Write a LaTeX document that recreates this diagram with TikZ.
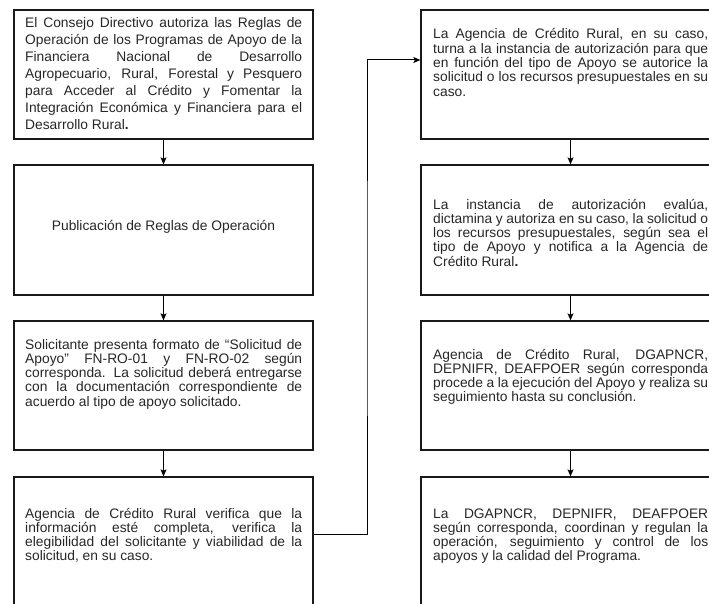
\documentclass[tikz,border=0pt]{standalone}
\usepackage{fontspec}
\setmainfont{Liberation Sans}
\usetikzlibrary{arrows.meta}
\newcommand\jlineL[1]{\hbox to 277pt{#1}}
\newcommand\jlineR[1]{\hbox to 275pt{#1}}
\newcommand\lastln[1]{\hbox{#1}}
\newcommand\tblock[2][14.3pt]{\vtop{\fontsize{13.8pt}{#1}\selectfont #2}}
\tikzset{
  box/.style={draw=black!90, line width=1.3pt, minimum width=299pt, inner sep=0pt, fill=none},
  txt/.style={anchor=base west, inner sep=0pt, text=black!85},
  arr/.style={draw=black, line width=1pt, -{Stealth[length=7pt,width=6pt,inset=1.5pt]}}
}
\begin{document}
\begin{tikzpicture}[x=1pt,y=-1pt]
\useasboundingbox (0,0) rectangle (709,604);
\clip (0,0) rectangle (709,604);
% left column boxes
\node[box, minimum height=129pt] (L1) at (163.5,74.5) {};
\node[box, minimum height=130pt] (L2) at (163.5,230) {};
\node[box, minimum height=129pt] (L3) at (163.5,385.5) {};
\node[box, minimum height=130pt] (L4) at (163.5,542) {};
% right column boxes
\node[box, minimum height=129pt] (R1) at (570.5,74.5) {};
\node[box, minimum height=130pt] (R2) at (570.5,230) {};
\node[box, minimum height=129pt] (R3) at (570.5,385.5) {};
\node[box, minimum height=130pt] (R4) at (570.5,542) {};
% texts
\node[txt] (tL1) at (25,28) {\tblock[16.9pt]{%
\jlineL{El Consejo Directivo autoriza las Reglas de}
\jlineL{Operación de los Programas de Apoyo de la}
\jlineL{Financiera Nacional de Desarrollo}
\jlineL{Agropecuario, Rural, Forestal y Pesquero}
\jlineL{para Acceder al Crédito y Fomentar la}
\jlineL{Integración Económica y Financiera para el}
\lastln{Desarrollo Rural\textbf{.}}}};
\node[txt, anchor=base] (tL2) at (163.5,230) {\fontsize{13.8pt}{14.3pt}\selectfont Publicación de Reglas de Operación};
\node[txt] (tL3) at (25,349) {\tblock{%
\jlineL{Solicitante presenta formato de “Solicitud de}
\jlineL{Apoyo” FN-RO-01 y FN-RO-02 según}
\jlineL{corresponda. La solicitud deberá entregarse}
\jlineL{con la documentación correspondiente de}
\lastln{acuerdo al tipo de apoyo solicitado.}}};
\node[txt] (tL4) at (25,518) {\tblock{%
\jlineL{Agencia de Crédito Rural verifica que la}
\jlineL{información esté completa, verifica la}
\jlineL{elegibilidad del solicitante y viabilidad de la}
\lastln{solicitud, en su caso.}}};
\node[txt] (tR1) at (433,39) {\tblock{%
\jlineR{La Agencia de Crédito Rural, en su caso,}
\jlineR{turna a la instancia de autorización para que}
\jlineR{en función del tipo de Apoyo se autorice la}
\jlineR{solicitud o los recursos presupuestales en su}
\lastln{caso.}}};
\node[txt] (tR2) at (433,209) {\tblock{%
\jlineR{La instancia de autorización evalúa,}
\jlineR{dictamina y autoriza en su caso, la solicitud o}
\jlineR{los recursos presupuestales, según sea el}
\jlineR{tipo de Apoyo y notifica a la Agencia de}
\lastln{Crédito Rural\textbf{.}}}};
\node[txt] (tR3) at (433,359) {\tblock{%
\jlineR{Agencia de Crédito Rural, DGAPNCR,}
\jlineR{DEPNIFR, DEAFPOER según corresponda}
\jlineR{procede a la ejecución del Apoyo y realiza su}
\lastln{seguimiento hasta su conclusión.}}};
\node[txt] (tR4) at (433,518) {\tblock{%
\jlineR{La DGAPNCR, DEPNIFR, DEAFPOER}
\jlineR{según corresponda, coordinan y regulan la}
\jlineR{operación, seguimiento y control de los}
\lastln{apoyos y la calidad del Programa.}}};
% connectors
\draw[arr] (L1) -- (L2);
\draw[arr] (L2) -- (L3);
\draw[arr] (L3) -- (L4);
\draw[arr] (R1) -- (R2);
\draw[arr] (R2) -- (R3);
\draw[arr] (R3) -- (R4);
\coordinate (bend) at (367,300);
\draw[arr] ([yshift=8pt]L4.east) -| (bend) |- ([yshift=14.5pt]R1.west);
\end{tikzpicture}
\end{document}
